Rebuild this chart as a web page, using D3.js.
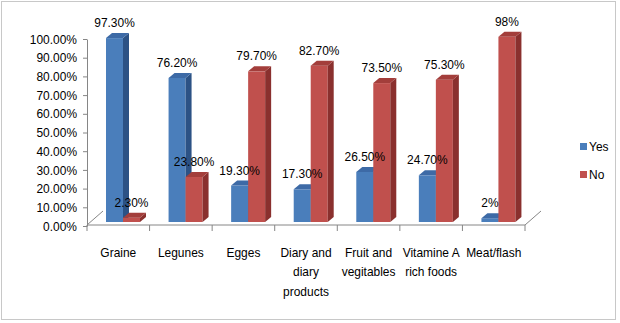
<!DOCTYPE html>
<html lang="en">
<head>
    <title>Foods</title>
    <script src="https://d3js.org/d3.v7.min.js"></script>
    <style>
        body { margin: 0; background: #fff; }
        text { font-family: "Liberation Sans", Arial, sans-serif; font-size: 13px; fill: #000; }
        .axis path, .axis line { stroke: #868686; }
    </style>
</head>
<body>

<script>
    const categories = ["Graine", "Legunes", "Egges", "Diary and\ndiary\nproducts", "Fruit and\nvegitables", "Vitamine A\nrich foods", "Meat/flash"];
    const yesValues = [0.973, 0.762, 0.193, 0.173, 0.265, 0.247, 0.02];
    const noValues = [0.023, 0.238, 0.797, 0.827, 0.735, 0.753, 0.98];
    const yesLabels = ["97.30%", "76.20%", "19.30%", "17.30%", "26.50%", "24.70%", "2%"];
    const noLabels = ["2.30%", "23.80%", "79.70%", "82.70%", "73.50%", "75.30%", "98%"];
    const tickValues = d3.range(0, 11).map(d => d / 10);
    const seriesNames = ["Yes", "No"];

    const colors = {
        Yes: {front: "#4a7ebb", side: "#2c5285", top: "#3d6aa6"},
        No: {front: "#c0504d", side: "#8a302e", top: "#a33e3b"}
    };

    // squeeze text a bit, the original face is narrower
    const sx = 0.92;
    const place = (px, py) => `translate(${px},${py}) scale(${sx},1)`;

    const svg = d3.select("body").append("svg").attr("width", 620).attr("height", 323);

    svg.append("rect").attr("x", 1.5).attr("y", 1.5).attr("width", 614).attr("height", 318)
            .attr("fill", "#fff").attr("stroke", "#c8c8c8");

    const x = d3.scaleBand().domain(categories).range([87, 525]);
    const y = d3.scaleLinear().domain([0, 1]).range([226, 39]);
    const yBar = d3.scaleLinear().domain([0, 1]).range([222, 33]);

    // floor
    const floorY = y(0) - 1;
    const g = svg.append("g").attr("class", "axis");
    g.append("line").attr("x1", 87).attr("x2", 525).attr("y1", floorY).attr("y2", floorY);
    g.append("line").attr("x1", 87).attr("x2", 103).attr("y1", floorY).attr("y2", floorY - 14);
    g.append("line").attr("x1", 525).attr("x2", 541).attr("y1", floorY).attr("y2", floorY - 14);
    g.selectAll("line.tk").data(categories.concat([null])).join("line").attr("class", "tk")
            .attr("x1", (d, i) => 87 + i * x.step()).attr("x2", (d, i) => 87 + i * x.step())
            .attr("y1", floorY).attr("y2", floorY + 6);

    // y axis
    const yAxis = svg.append("g").attr("class", "axis")
            .attr("transform", "translate(87,0)")
            .call(d3.axisLeft(y).tickValues(tickValues).tickFormat(d3.format(".2%")).tickSize(4).tickSizeOuter(0));
    yAxis.selectAll("text")
            .attr("x", -10 / sx)
            .attr("transform", `scale(${sx},1)`)
            .style("font-size", "13px").style("font-family", null);

    // bars
    const dx = 6, dy = -5, bw = 17;
    const bars = [];
    categories.forEach((c, i) => {
        bars.push({s: "Yes", x: x(c) + 19, v: yesValues[i], label: yesLabels[i]});
        bars.push({s: "No", x: x(c) + 19 + bw, v: noValues[i], label: noLabels[i]});
    });

    const bar = svg.append("g").selectAll("g").data(bars).join("g");
    bar.append("rect")
            .attr("x", d => d.x).attr("y", d => yBar(d.v))
            .attr("width", bw).attr("height", d => yBar(0) - yBar(d.v))
            .attr("fill", d => colors[d.s].front);
    bar.append("path")
            .attr("d", d => {
                const t = yBar(d.v), b = yBar(0), r = d.x + bw;
                return `M${r},${t}L${r + dx},${t + dy}L${r + dx},${b + dy}L${r},${b}Z`;
            })
            .attr("fill", d => colors[d.s].side);
    bar.append("path")
            .attr("d", d => {
                const t = yBar(d.v);
                return `M${d.x},${t}L${d.x + bw},${t}L${d.x + bw + dx},${t + dy}L${d.x + dx},${t + dy}Z`;
            })
            .attr("fill", d => colors[d.s].top);

    svg.append("g").selectAll("text").data(bars).join("text")
            .attr("transform", d => place(d.x + bw / 2, yBar(d.v) - 11))
            .attr("text-anchor", "middle")
            .text(d => d.label);

    // category labels
    svg.append("g").selectAll("text").data(categories).join("text")
            .attr("text-anchor", "middle")
            .attr("transform", d => place(x(d) + x.bandwidth() / 2, 257))
            .selectAll("tspan").data(d => d.split("\n")).join("tspan")
            .attr("x", 0)
            .attr("dy", (d, i) => i === 0 ? 0 : 19.5)
            .text(d => d);

    // legend
    const legend = svg.append("g").selectAll("g").data(seriesNames).join("g")
            .attr("transform", (d, i) => `translate(580,${143 + i * 28})`);
    legend.append("rect").attr("width", 7).attr("height", 7).attr("fill", d => colors[d].front);
    legend.append("text").attr("transform", place(9, 8)).text(d => d);
</script>

</body>
</html>
